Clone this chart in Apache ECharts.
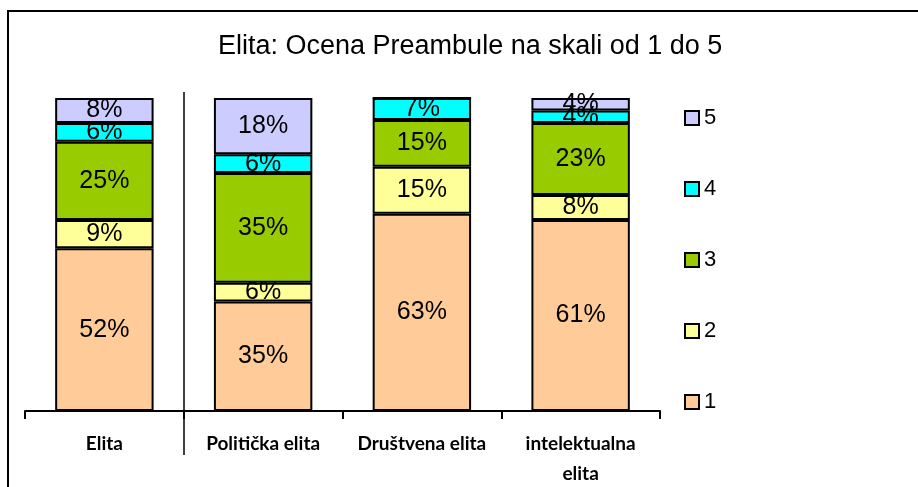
<!DOCTYPE html>
<html>
<head>
<meta charset="utf-8">
<script src="https://cdn.jsdelivr.net/npm/echarts@6/dist/echarts.min.js"></script>
<style>html,body{margin:0;padding:0;background:#fff}#c{width:918px;height:487px}</style>
</head>
<body>
<div id="c"></div>
<script>
const categories = ['Elita', 'Politička elita', 'Društvena elita', 'intelektualna\nelita'];
const s1 = [52, 35, 63, 61];
const s2 = [9, 6, 15, 8];
const s3 = [25, 35, 15, 23];
const s4 = [6, 6, 7, 4];
const s5 = [8, 18, 0, 4];
const seriesNames = ['1', '2', '3', '4', '5'];
const seriesData = [s1, s2, s3, s4, s5];
const colors = ['#FFCC99', '#FFFF99', '#99CC00', '#00FFFF', '#CCCCFF'];

const chart = echarts.init(document.getElementById('c'));
chart.setOption({
  animation: false,
  backgroundColor: '#fff',
  title: {
    text: 'Elita: Ocena Preambule na skali od 1 do 5',
    left: 213, top: 28,
    textStyle: { fontFamily: 'Liberation Sans', fontSize: 27, fontWeight: 'normal', color: '#000' }
  },
  legend: {
    orient: 'vertical',
    left: 679, top: 102,
    data: ['5', '4', '3', '2', '1'],
    itemWidth: 14, itemHeight: 14, itemGap: 49,
    icon: 'rect',
    itemStyle: { borderColor: '#000', borderWidth: 2 },
    textStyle: { fontFamily: 'Liberation Sans', fontSize: 22, color: '#000' }
  },
  grid: { left: 25, right: 258, top: 98, bottom: 76, containLabel: false, outerBoundsMode: 'none' },
  xAxis: {
    type: 'category',
    data: categories,
    axisLine: { show: true, lineStyle: { color: '#000', width: 2 } },
    axisTick: { show: true, length: 8, lineStyle: { color: '#000', width: 2 } },
    axisLabel: { fontFamily: 'Lato', fontWeight: 'bold', fontSize: 19, color: '#000', margin: 18, lineHeight: 30, interval: 0 }
  },
  yAxis: { type: 'value', min: 0, max: 100, show: false },
  series: seriesData.map((d, i) => ({
    name: seriesNames[i],
    type: 'bar',
    stack: 'total',
    data: d,
    barCategoryGap: '38%',
    itemStyle: { color: colors[i], borderColor: '#000', borderWidth: 2 },
    label: {
      show: true, position: 'inside',
      formatter: p => p.value > 0 ? p.value + '%' : '',
      fontFamily: 'Liberation Sans', fontSize: 25, color: '#000'
    }
  })),
  graphic: [
    { type: 'rect', shape: { x: 8, y: 11, width: 1000, height: 1000 }, style: { fill: 'none', stroke: '#000', lineWidth: 2 }, silent: true },
    { type: 'line', shape: { x1: 184, y1: 92, x2: 184, y2: 455 }, style: { stroke: '#000', lineWidth: 1.5 }, silent: true }
  ]
});
</script>
</body>
</html>
